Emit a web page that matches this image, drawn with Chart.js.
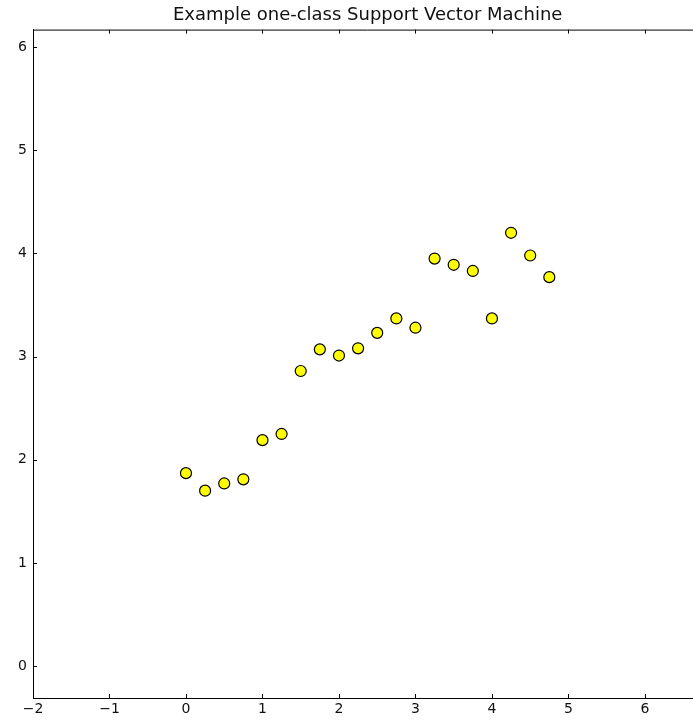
<!DOCTYPE html>
<html>
<head>
<meta charset="utf-8">
<script src="https://cdn.jsdelivr.net/npm/chart.js@4"></script>
<style>
  html, body { margin: 0; padding: 0; background: #fff; overflow: hidden; }
  #wrap { position: absolute; left: 0; top: 0; width: 709px; height: 721px; }
</style>
</head>
<body>
<div id="wrap"><canvas id="svmChart"></canvas></div>
<script>
const xValues = [0, 0.25, 0.5, 0.75, 1, 1.25, 1.5, 1.75, 2, 2.25, 2.5, 2.75, 3, 3.25, 3.5, 3.75, 4, 4.25, 4.5, 4.75];
const yValues = [1.87, 1.70, 1.77, 1.81, 2.19, 2.25, 2.86, 3.07, 3.01, 3.08, 3.23, 3.37, 3.28, 3.95, 3.89, 3.83, 3.37, 4.20, 3.98, 3.77];
const xTicks = [-2, -1, 0, 1, 2, 3, 4, 5, 6];
const yTicks = [0, 1, 2, 3, 4, 5, 6];

const points = xValues.map((x, i) => ({ x: x, y: yValues[i] }));
const fontFamily = '"DejaVu Sans", sans-serif';

// matplotlib style: ticks pointing inward, plus top frame line and top ticks
const innerTicks = {
    id: 'innerTicks',
    afterDraw(chart) {
        const ctx = chart.ctx;
        const a = chart.chartArea;
        const xs = chart.scales.x, ys = chart.scales.y;
        ctx.save();
        ctx.strokeStyle = '#000';
        ctx.lineWidth = 1;
        ctx.beginPath();
        ctx.moveTo(a.left, a.top + 0.5);
        ctx.lineTo(a.right, a.top + 0.5);
        xTicks.forEach(v => {
            const px = Math.round(xs.getPixelForValue(v)) + 0.5;
            ctx.moveTo(px, a.bottom);
            ctx.lineTo(px, a.bottom - 4);
            ctx.moveTo(px, a.top);
            ctx.lineTo(px, a.top + 4);
        });
        yTicks.forEach(v => {
            const py = Math.round(ys.getPixelForValue(v)) + 0.5;
            ctx.moveTo(a.left, py);
            ctx.lineTo(a.left + 4, py);
        });
        ctx.stroke();
        ctx.restore();
    }
};

const ctx = document.getElementById('svmChart').getContext('2d');
new Chart(ctx, {
    type: 'scatter',
    data: {
        datasets: [{
            data: points,
            backgroundColor: '#ffff00',
            borderColor: '#000000',
            borderWidth: 1.2,
            pointRadius: 5.5,
            pointHoverRadius: 5.5
        }]
    },
    options: {
        responsive: true,
        maintainAspectRatio: false,
        animation: false,
        layout: { padding: 0 },
        plugins: {
            legend: { display: false },
            tooltip: { enabled: false },
            title: {
                display: true,
                fullSize: false,
                text: 'Example one-class Support Vector Machine',
                color: '#111',
                font: { family: fontFamily, size: 18, weight: 'normal' },
                padding: { top: 5, bottom: 3 }
            }
        },
        scales: {
            x: {
                type: 'linear',
                min: -2,
                max: 6.75,
                grid: { display: false, drawTicks: false },
                border: { display: true, color: '#000', width: 1 },
                afterBuildTicks: s => { s.ticks = xTicks.map(v => ({ value: v })); },
                afterFit: s => { s.height = 23; },
                ticks: {
                    color: '#111',
                    padding: 3,
                    maxRotation: 0,
                    font: { family: fontFamily, size: 14 },
                    callback: v => String(v).replace('-', '\u2212')
                }
            },
            y: {
                type: 'linear',
                min: -0.31,
                max: 6.17,
                grid: { display: false, drawTicks: false },
                border: { display: true, color: '#000', width: 1 },
                afterBuildTicks: s => { s.ticks = yTicks.map(v => ({ value: v })); },
                afterFit: s => { s.width = 33; },
                ticks: {
                    color: '#111',
                    padding: 6,
                    font: { family: fontFamily, size: 14 },
                    callback: v => String(v).replace('-', '\u2212')
                }
            }
        }
    },
    plugins: [innerTicks]
});
</script>
</body>
</html>
